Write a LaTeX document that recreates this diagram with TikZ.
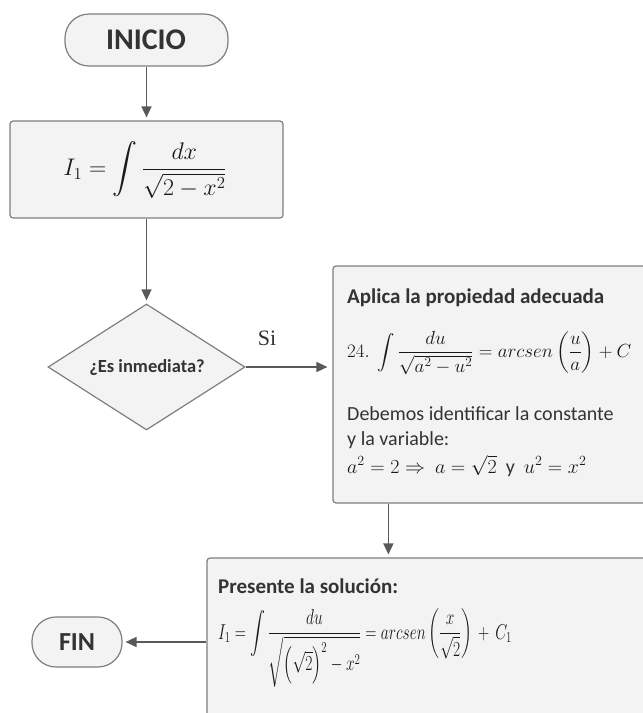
\RequirePackage{fix-cm}
\documentclass[tikz,border=0pt]{standalone}
\usepackage{amsmath}
\usepackage{graphicx}
\usepackage{fontspec}
\setmainfont{Carlito}
\newfontfamily\serifsi{Liberation Serif}
\usetikzlibrary{shapes.geometric,arrows.meta}
\definecolor{boxfill}{HTML}{F3F3F3}
\definecolor{boxline}{HTML}{7F7F7F}
\definecolor{arrowc}{HTML}{595959}
\definecolor{txt}{HTML}{333333}
\newcommand{\hsq}[2]{\scalebox{#1}[1]{#2}}
\tikzset{
  base/.style={draw=boxline, fill=boxfill, line width=1.2pt, inner sep=0pt},
  term/.style={base, rounded corners=24pt},
  procbox/.style={base, rounded corners=3pt},
  decide/.style={base, diamond},
  arr/.style={draw=arrowc, line width=1.6pt, -{Triangle[length=11pt,width=10pt]}, shorten >=3pt},
  bigbold/.style={text=txt, inner sep=0pt, font=\fontsize{30}{36}\selectfont\bfseries},
  midbold/.style={text=txt, inner sep=0pt, font=\fontsize{21}{25}\selectfont\bfseries},
  bodytxt/.style={text=txt, inner sep=0pt, font=\fontsize{20}{24}\selectfont},
  mathtxt/.style={text=black!90, font=\fontsize{22}{26}\selectfont, inner sep=0pt},
}
\begin{document}
\begin{tikzpicture}[x=1pt,y=-1pt]
\useasboundingbox (0,0) rectangle (643,713);
\clip (0,0) rectangle (643,713);
\fill[white] (0,0) rectangle (643,713);

% shapes
\node[term, minimum width=163pt, minimum height=52pt] (inicio) at (146.5,40) {};
\node[procbox, minimum width=273pt, minimum height=97pt] (box1) at (146.5,169.5) {};
\node[decide, minimum width=197pt, minimum height=126pt] (dia) at (146.5,367) {};
\node[procbox, minimum width=367pt, minimum height=237pt] (box2) at (516.5,384.5) {};
\node[procbox, minimum width=493pt, minimum height=204pt] (box3) at (453.5,660) {};
\node[term, minimum width=90pt, minimum height=50pt] (fin) at (77,642) {};

% texts
\node[bigbold] (tinicio) at (146,40) {INICIO};
\node[mathtxt, font=\fontsize{24}{29}\selectfont] (f1) at (145,170) {$\displaystyle I_1 = \int \frac{dx}{\sqrt{2-x^2}}$};
\node[midbold, font=\fontsize{18.5}{22}\selectfont\bfseries] (tdia) at (147,368) {¿Es inmediata?};
\node[text=txt, inner sep=0pt, font=\fontsize{22}{26}\selectfont\serifsi] (si) at (267,338) {Si};

\node[midbold, anchor=base west] (t21) at (347,303) {Aplica la propiedad adecuada};
\node[mathtxt, font=\fontsize{19}{23}\selectfont, anchor=west] (f2) at (347,353) {$\displaystyle 24.\ \int \frac{du}{\sqrt{a^2-u^2}} = arcsen\left(\frac{u}{a}\right) + C$};
\node[bodytxt, anchor=base west] (t22) at (347,420) {Debemos identificar la constante};
\node[bodytxt, anchor=base west] (t23) at (347,445) {y la variable:};
\node[mathtxt, font=\fontsize{20}{25}\selectfont, anchor=base west] (f3) at (347,473) {$a^2 = 2 \Rightarrow\ a = \sqrt{2}\ \ \text{\textcolor{txt}{y}}\ \ u^2 = x^2$};

\node[midbold, anchor=base west] (t31) at (218,593) {Presente la solución:};
\node[mathtxt, font=\fontsize{21.5}{26}\selectfont, anchor=west] (f4) at (218,648) {\hsq{0.72}{$\displaystyle I_1 = \int \frac{du}{\sqrt{\left(\sqrt{2}\right)^2 - x^2}} = arcsen\left(\frac{x}{\sqrt{2}}\right)\, +\, C_1$}};

\node[bigbold, font=\fontsize{26}{30}\selectfont\bfseries] (tfin) at (77,642) {FIN};

% connectors
\draw[arr] (inicio.south) -- (box1.north);
\draw[arr] (box1.south) -- (dia.north);
\draw[arr, shorten >=5pt] (dia.east) -- (dia.east -| box2.west);
\draw[arr] ([xshift=56pt]box2.south west) -- ([xshift=56pt]box2.south west |- box3.north);
\draw[arr] (fin.east -| box3.west) -- (fin.east);
\end{tikzpicture}
\end{document}
